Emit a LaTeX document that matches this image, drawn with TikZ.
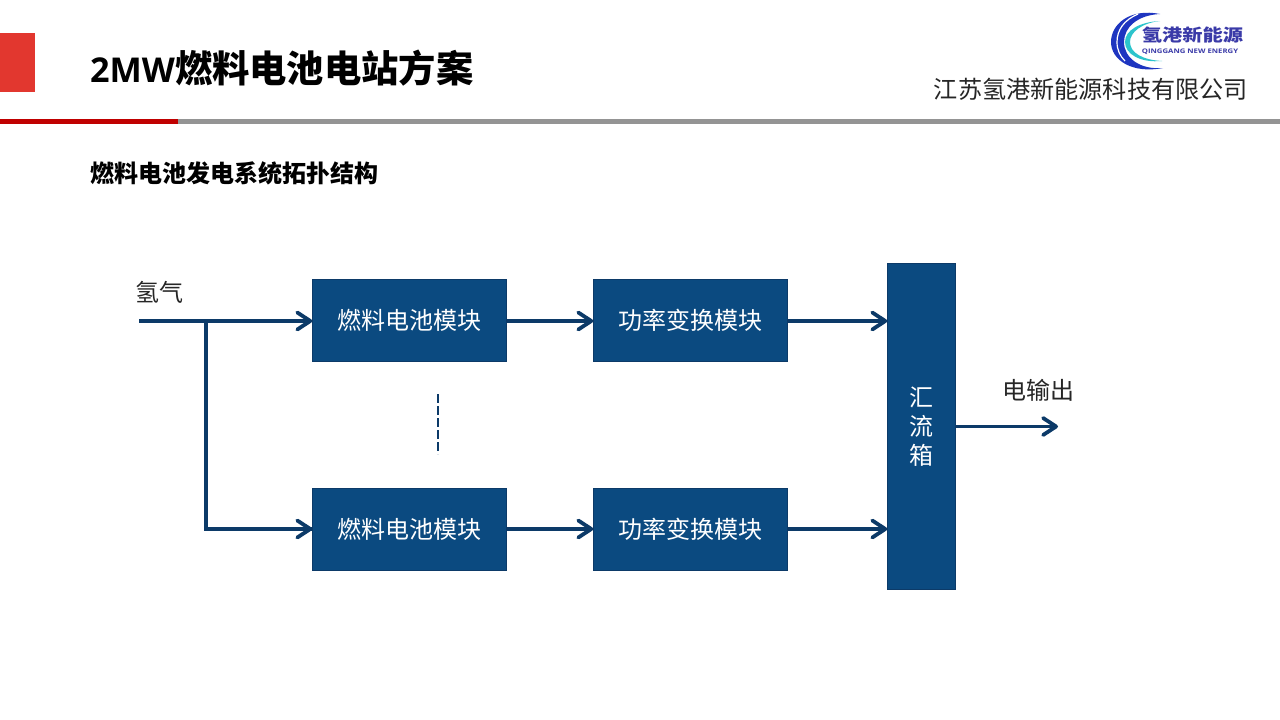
\documentclass[tikz,border=0pt]{standalone}
\usepackage{fontspec}
\setmainfont{Open Sans}
\newfontfamily\cjk{Noto Sans CJK SC}
\usetikzlibrary{arrows.meta}
\definecolor{boxblue}{HTML}{0B4A80}
\definecolor{lineblue}{HTML}{0C3A68}
\definecolor{barred}{HTML}{C00000}
\definecolor{bargray}{HTML}{949494}
\definecolor{tabred}{HTML}{E2372F}
\definecolor{txt}{HTML}{262626}
\definecolor{logoblue}{HTML}{1E35C0}
\definecolor{logoteal}{HTML}{2CC4CC}
\definecolor{logotext}{HTML}{3A3AA8}
\tikzset{
  x=1pt,y=-1pt,
  modbox/.style={draw=lineblue,line width=0.6pt,fill=boxblue,text=white,minimum width=194pt,minimum height=82pt,inner sep=0pt,font=\cjk\fontsize{24}{24}\selectfont},
  busbox/.style={draw=lineblue,line width=0.6pt,fill=boxblue,text=white,minimum width=68pt,minimum height=326pt,inner sep=0pt,align=center,font=\cjk\fontsize{24}{29}\selectfont},
  flow/.style={draw=lineblue,line width=3.8pt,-{Straight Barb[length=13pt,width=17pt,line width=3.8pt,round]}},
  plain/.style={draw=lineblue,line width=3.8pt},
  lbl/.style={text=txt,inner sep=0pt,font=\cjk\fontsize{24}{24}\selectfont},
}
\begin{document}
\begin{tikzpicture}
\useasboundingbox (0,0) rectangle (1280,720);
\fill[white] (0,0) rectangle (1280,720);
% header
\fill[tabred] (0,33) rectangle (35,92);
\fill[bargray] (178,119) rectangle (1280,124);
\fill[barred] (0,119) rectangle (178,124);
\node[anchor=west,inner sep=0pt,text=black] (title) at (90,68) {\fontsize{34.2}{37}\selectfont\bfseries 2MW{\cjk\fontsize{37.3}{37}\selectfont 燃料电池电站方案}};
\node[anchor=west,inner sep=0pt,text=black] (sub) at (90,173) {\cjk\bfseries\fontsize{24}{24}\selectfont 燃料电池发电系统拓扑结构};
\node[anchor=east,text=txt,inner sep=0pt] (company) at (1248,89) {\cjk\fontsize{24.15}{24}\selectfont 江苏氢港新能源科技有限公司};
% logo
\fill[logoblue] (1160,14) .. controls (1130,8) and (1111,24) .. (1111,42) .. controls (1111,60) and (1132,74) .. (1163,68) .. controls (1140,70) and (1124,58) .. (1124,42) .. controls (1124,27) and (1138,15) .. (1160,14) -- cycle;
\draw[white,line width=1.2pt] (1138,14) .. controls (1124,20) and (1117,30) .. (1117,42) .. controls (1117,50) and (1120,56) .. (1125,61);
\fill[logoteal] (1160,21) .. controls (1140,22) and (1125,30) .. (1125,42) .. controls (1125,54) and (1140,63) .. (1162,61) .. controls (1143,60) and (1130,53) .. (1130,42) .. controls (1130,32) and (1142,23) .. (1160,21) -- cycle;
\node[inner sep=0pt,text=logotext,xscale=1.19] (logoname) at (1192.5,35) {\cjk\bfseries\fontsize{17}{17}\selectfont 氢港新能源};
\node[inner sep=0pt,text=logotext,xscale=1.23] (logosub) at (1190,51.5) {\bfseries\fontsize{6.3}{6.3}\selectfont QINGGANG NEW ENERGY};
% diagram
\node[modbox] (fc1) at (409.5,320) {燃料电池模块};
\node[modbox] (pc1) at (690.5,320) {功率变换模块};
\node[modbox] (fc2) at (409.5,529) {燃料电池模块};
\node[modbox] (pc2) at (690.5,529) {功率变换模块};
\node[busbox] (bus) at (921.5,426.5) {汇\\流\\箱};
\node[lbl] (h2) at (159.5,292) {氢气};
\node[lbl] (out) at (1038.5,390) {电输出};
\coordinate (src) at (139,321);
\coordinate (junc) at (206,321);
\coordinate (corner) at (206,529);
\coordinate (end) at (1058,426.5);
\coordinate (dash1) at (438,394);
\coordinate (dash2) at (438,454);
\draw[flow] (src) -- (fc1.west |- src);
\draw[plain] (junc) -- (corner) -- (fc2.west);
\draw[flow] (corner) -- (fc2.west);
\draw[flow] (fc1.east |- src) -- (pc1.west |- src);
\draw[flow] (fc2) -- (pc2);
\draw[flow] (pc1.east |- src) -- (bus.west |- src);
\draw[flow] (pc2.east) -- (bus.west |- pc2.east);
\draw[flow] (bus.east |- end) -- (end);
\draw[draw=lineblue,line width=2.8pt,dash pattern=on 9pt off 3pt] (dash1) -- (dash2);
\end{tikzpicture}
\end{document}
